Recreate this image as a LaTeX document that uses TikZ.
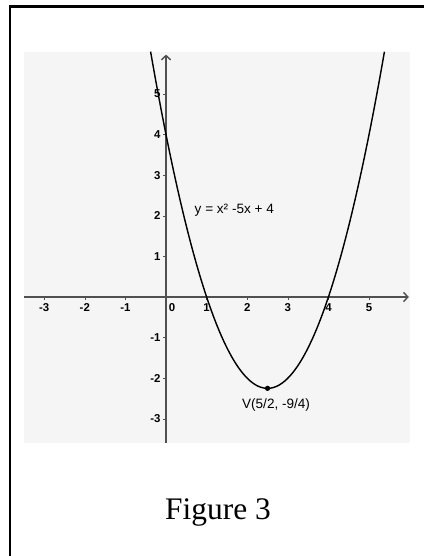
\documentclass[tikz,border=0pt]{standalone}
\usepackage{fontspec}
\setmainfont{Liberation Serif}
\setsansfont{Liberation Sans}
\usepackage{tikz}
\usetikzlibrary{positioning,arrows.meta,calc}
\definecolor{panel}{RGB}{245,245,245}
\definecolor{axisgray}{RGB}{80,80,80}
\newcommand{\quadf}{plot (\x, {\x*\x-5*\x+4})}
\tikzset{
  ticklbl/.style={font=\sffamily\bfseries\fontsize{8}{9}\selectfont, inner sep=0.8pt},
  plotlbl/.style={font=\sffamily\fontsize{9.5}{11}\selectfont, inner sep=1pt},
  axisline/.style={axisgray, line width=1pt, -{Straight Barb[length=3pt,width=6.5pt]}}
}

\begin{document}
\begin{tikzpicture}
    \useasboundingbox (-4.089,-6.379) rectangle (6.355,7.315);
    % frame (only the left and top edges are shown)
    \draw[line width=1.8pt] (-3.842,-6.379) -- (-3.842,7.155) -- (6.355,7.155);
    % graph panel
    \fill[panel] (-3.5,-3.59) rectangle (6.01,6.03);
    % axes
    \draw[axisline] (-3.5,0) -- (5.98,0);
    \draw[axisline] (0,-3.59) -- (0,5.97);
    \foreach \i in {-3,-2,-1,1,2,3,4,5} {
      \draw[axisgray, thin] (\i,0) -- (\i,-0.07);
      \node[ticklbl, anchor=north] (xl\i) at (\i,-0.13) {\i};
    }
    \node[ticklbl, anchor=north] (xl0) at (0.15,-0.13) {0};
    \foreach \j in {-3,-2,-1,1,2,3,4,5} {
      \draw[axisgray, thin] (0,\j) -- (-0.07,\j);
      \node[ticklbl, anchor=east] (yl\j) at (-0.1,\j) {\j};
    }
    % the parabola and its vertex
    \draw[line width=1pt, domain=-0.38:5.38, samples=90, smooth] \quadf;
    \node[circle, fill, inner sep=1.3pt] (vtx) at (2.5,-2.25) {};
    \node[plotlbl] (vlbl) at (2.71,-2.66) {V(5/2, -9/4)};
    \node[plotlbl, anchor=west] (eqn) at (0.665,2.13) {y = x² -5x + 4};
    % caption
    \node[font=\fontsize{22}{26}\selectfont] (cap) at (1.28,-5.3) {Figure 3};
\end{tikzpicture}
\end{document}
